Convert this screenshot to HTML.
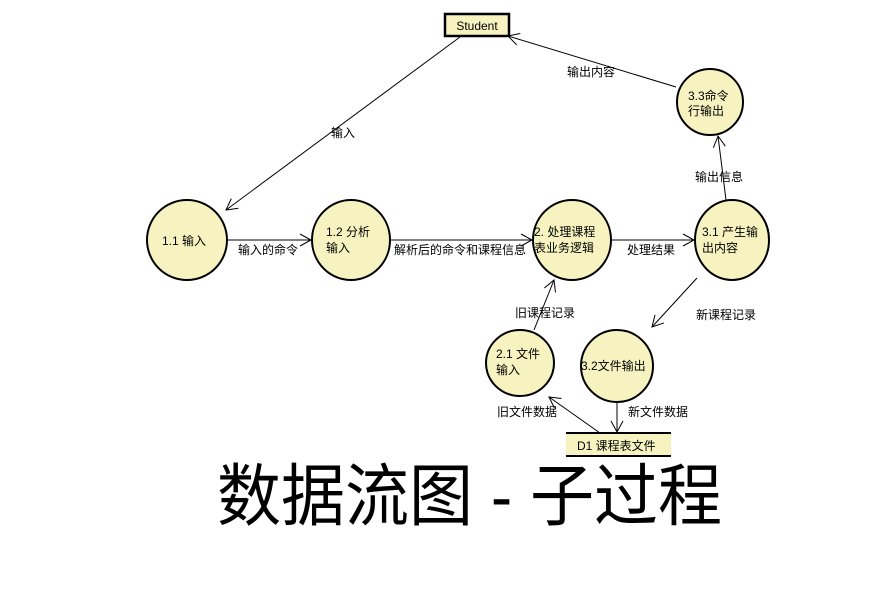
<!DOCTYPE html>
<html><head><meta charset="utf-8"><style>
html,body{margin:0;padding:0;background:#fff;}
svg{display:block;font-family:"Liberation Sans","Noto Sans CJK SC",sans-serif;}
</style></head><body>
<svg width="885" height="594" viewBox="0 0 885 594" xmlns="http://www.w3.org/2000/svg">
<defs>
<marker id="a" markerWidth="14" markerHeight="14" refX="12" refY="7" orient="auto" markerUnits="userSpaceOnUse">
<path d="M1,1 L12,7 L1,13" fill="none" stroke="#000" stroke-width="1"/>
</marker>
</defs>
<g fill="#f7f3c0" stroke="#000" stroke-width="2">
<rect x="445" y="14" width="64" height="22" stroke-width="2.5"/>
<ellipse cx="187" cy="240" rx="40" ry="40"/>
<ellipse cx="351" cy="240" rx="39" ry="40"/>
<ellipse cx="572" cy="240" rx="39" ry="40"/>
<ellipse cx="732" cy="240" rx="37" ry="40"/>
<ellipse cx="710" cy="102" rx="33" ry="33"/>
<ellipse cx="520" cy="363" rx="34" ry="33"/>
<ellipse cx="617" cy="366" rx="36" ry="36"/>
<rect x="566" y="433" width="105" height="23" stroke="none"/>
</g>
<line x1="566" y1="433" x2="671" y2="433" stroke="#000" stroke-width="2"/>
<line x1="566" y1="456" x2="671" y2="456" stroke="#000" stroke-width="2"/>
<g stroke="#000" stroke-width="1" fill="none" marker-end="url(#a)">
<line x1="460" y1="37" x2="226" y2="210"/>
<line x1="676" y1="87" x2="508" y2="36"/>
<line x1="227" y1="240" x2="311" y2="240"/>
<line x1="391" y1="240" x2="532" y2="240"/>
<line x1="611" y1="240" x2="694" y2="240"/>
<line x1="726" y1="200" x2="718" y2="136"/>
<line x1="534" y1="330" x2="554" y2="280"/>
<line x1="697" y1="278" x2="652" y2="327"/>
<line x1="617" y1="402" x2="617" y2="432"/>
<line x1="600" y1="433" x2="549" y2="397"/>
</g>
<g font-size="12" fill="#000">
<text x="477" y="30" text-anchor="middle">Student</text>
<text x="162" y="245">1.1 输入</text>
<text x="326" y="236">1.2 分析</text>
<text x="326" y="252">输入</text>
<text x="534" y="236">2. 处理课程</text>
<text x="534" y="252">表业务逻辑</text>
<text x="702" y="236">3.1 产生输</text>
<text x="702" y="252">出内容</text>
<text x="688" y="100">3.3命令</text>
<text x="688" y="115">行输出</text>
<text x="496" y="358">2.1 文件</text>
<text x="496" y="374">输入</text>
<text x="581" y="370">3.2文件输出</text>
<text x="577" y="450">D1 课程表文件</text>
<text x="331" y="137">输入</text>
<text x="567" y="76">输出内容</text>
<text x="238" y="254">输入的命令</text>
<text x="394" y="254">解析后的命令和课程信息</text>
<text x="627" y="254">处理结果</text>
<text x="695" y="181">输出信息</text>
<text x="515" y="317">旧课程记录</text>
<text x="696" y="319">新课程记录</text>
<text x="497" y="416">旧文件数据</text>
<text x="628" y="416">新文件数据</text>
</g>
<text x="217" y="520" font-size="68" textLength="505" lengthAdjust="spacingAndGlyphs" fill="#000">数据流图 - 子过程</text>
</svg>
</body></html>
